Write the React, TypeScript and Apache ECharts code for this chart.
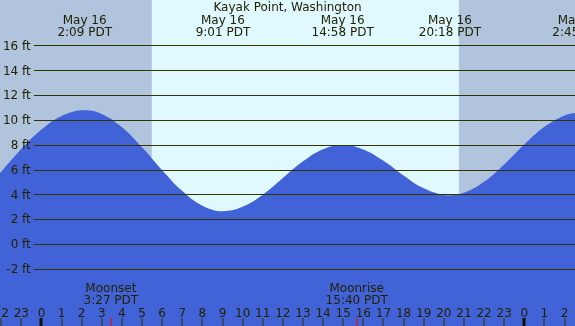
import React, { useEffect, useRef } from 'react';
import * as echarts from 'echarts';

const chartTitle = 'Kayak Point, Washington';

// tide curve (hours from midnight May 16, feet)
const tideHours = [-2.06, -1, 0, 1, 2.15, 3, 4, 5, 6, 7, 8, 9.02, 10, 11, 12, 13, 14, 14.97, 16, 17, 18, 19, 20.3, 21, 22, 23, 24, 25, 26, 26.52];
const tideFeet = [5.72, 7.67, 9.24, 10.34, 10.8, 10.5, 9.43, 7.81, 5.96, 4.28, 3.1, 2.66, 3.01, 3.99, 5.34, 6.68, 7.66, 8.0, 7.64, 6.72, 5.54, 4.52, 3.95, 4.14, 5.03, 6.43, 8.04, 9.46, 10.38, 10.58];

// high / low events
const eventHours = [2.15, 9.02, 14.97, 20.3, 26.75];
const eventDates = ['May 16', 'May 16', 'May 16', 'May 16', 'May 17'];
const eventTimes = ['2:09 PDT', '9:01 PDT', '14:58 PDT', '20:18 PDT', '2:45 PDT'];

// moon events
const moonHours = [3.45, 15.67];
const moonNames = ['Moonset', 'Moonrise'];
const moonTimes = ['3:27 PDT', '15:40 PDT'];

// day / night bands
const bandStarts = [-2.06, 5.49, 20.75];
const bandEnds = [5.49, 20.75, 26.52];
const bandKinds = ['night', 'day', 'night'];

// hour ticks along the bottom
const hourTicks = [-2, -1, 0, 1, 2, 3, 4, 5, 6, 7, 8, 9, 10, 11, 12, 13, 14, 15, 16, 17, 18, 19, 20, 21, 22, 23, 24, 25, 26];

const X_MIN = -2.06;
const X_MAX = 26.52;
const Y_MIN = -6.59;
const Y_MAX = 19.68;

const FONT = '12px "DejaVu Sans"';
const TEXT = '#222200';
const LINE = '#333300';
const BLUE = '#4262D8';
const NIGHT = '#B0C4DE';
const DAY = '#E0F8FF';

export default function App() {
  const ref = useRef<HTMLDivElement>(null);
  useEffect(() => {
    if (!ref.current) return;
    const chart = echarts.init(ref.current, undefined, { renderer: 'svg' });
    const option: any = {
      animation: false,
      title: {
        text: chartTitle,
        left: 'center',
        top: 1,
        padding: 0,
        textStyle: { fontFamily: 'DejaVu Sans', fontSize: 12, fontWeight: 'normal', color: TEXT },
      },
      grid: [
        { left: 0, right: 0, top: 0, bottom: 0 },
        { left: 30, right: 0, top: 45.7, bottom: 57 },
      ],
      xAxis: [
        { gridIndex: 0, type: 'value', min: X_MIN, max: X_MAX, show: false },
        { gridIndex: 1, type: 'value', min: X_MIN, max: X_MAX, show: false },
      ],
      yAxis: [
        { gridIndex: 0, type: 'value', min: Y_MIN, max: Y_MAX, show: false },
        {
          gridIndex: 1,
          type: 'value',
          min: -2,
          max: 16,
          interval: 2,
          z: 5,
          axisLine: { show: false },
          axisTick: { show: false },
          splitLine: { show: true, lineStyle: { color: LINE, width: 1 } },
          axisLabel: {
            margin: 3,
            fontFamily: 'DejaVu Sans',
            fontSize: 12,
            color: TEXT,
            formatter: (v: number) => `${v} ft`,
          },
        },
      ],
      series: [
        {
          type: 'custom',
          xAxisIndex: 0,
          yAxisIndex: 0,
          z: 1,
          silent: true,
          data: bandStarts.map((s, i) => [s, bandEnds[i], i]),
          encode: { x: [0, 1] },
          renderItem: (params: any, api: any) => {
            const p0 = api.coord([api.value(0), Y_MAX]);
            const p1 = api.coord([api.value(1), Y_MIN]);
            const kind = bandKinds[api.value(2)];
            return {
              type: 'rect',
              shape: { x: p0[0], y: p0[1], width: p1[0] - p0[0], height: p1[1] - p0[1] },
              style: { fill: kind === 'day' ? DAY : NIGHT },
            };
          },
        },
        {
          type: 'line',
          xAxisIndex: 0,
          yAxisIndex: 0,
          z: 2,
          silent: true,
          smooth: 0.4,
          showSymbol: false,
          symbol: 'none',
          lineStyle: { width: 0 },
          areaStyle: { color: BLUE, opacity: 1, origin: 'start' },
          data: tideHours.map((t, i) => [t, tideFeet[i]]),
        },
        {
          type: 'custom',
          xAxisIndex: 0,
          yAxisIndex: 0,
          z: 6,
          silent: true,
          data: hourTicks.map((h) => [h, 0]),
          renderItem: (params: any, api: any) => {
            const h = api.value(0);
            const x = api.coord([h, 0])[0];
            const label = String(((h % 24) + 24) % 24);
            const midnight = label === '0';
            const w = midnight ? 3 : 1;
            return {
              type: 'group',
              children: [
                {
                  type: 'text',
                  x: x,
                  y: 312.5,
                  style: { text: label, fill: TEXT, font: FONT, align: 'center', verticalAlign: 'middle' },
                },
                {
                  type: 'rect',
                  shape: { x: Math.round(x) - (midnight ? 1.5 : 0.5), y: 318, width: w, height: 8 },
                  style: { fill: midnight ? '#111100' : LINE },
                },
              ],
            };
          },
        },
        {
          type: 'custom',
          xAxisIndex: 0,
          yAxisIndex: 0,
          z: 6,
          silent: true,
          data: eventHours.map((h, i) => [h, 0, i]),
          renderItem: (params: any, api: any) => {
            const i = api.value(2);
            const x = api.coord([api.value(0), 0])[0];
            return {
              type: 'text',
              x: x,
              y: 25.8,
              style: {
                text: `${eventDates[i]}\n${eventTimes[i]}`,
                fill: TEXT,
                font: FONT,
                lineHeight: 12.5,
                align: 'center',
                verticalAlign: 'middle',
              },
            };
          },
        },
        {
          type: 'custom',
          xAxisIndex: 0,
          yAxisIndex: 0,
          z: 6,
          silent: true,
          data: moonHours.map((h, i) => [h, 0, i]),
          renderItem: (params: any, api: any) => {
            const i = api.value(2);
            const x = api.coord([api.value(0), 0])[0];
            return {
              type: 'group',
              children: [
                {
                  type: 'text',
                  x: x,
                  y: 293.5,
                  style: {
                    text: `${moonNames[i]}\n${moonTimes[i]}`,
                    fill: TEXT,
                    font: FONT,
                    lineHeight: 12,
                    align: 'center',
                    verticalAlign: 'middle',
                  },
                },
                {
                  type: 'rect',
                  shape: { x: Math.round(x) - 0.5, y: 318, width: 1, height: 8 },
                  style: { fill: '#FF0000' },
                },
              ],
            };
          },
        },
      ],
    };
    chart.setOption(option);
    return () => chart.dispose();
  }, []);
  return (
    <div
      ref={ref}
      style={{ position: 'fixed', left: 0, top: 0, width: 575, height: 326 }}
    />
  );
}
